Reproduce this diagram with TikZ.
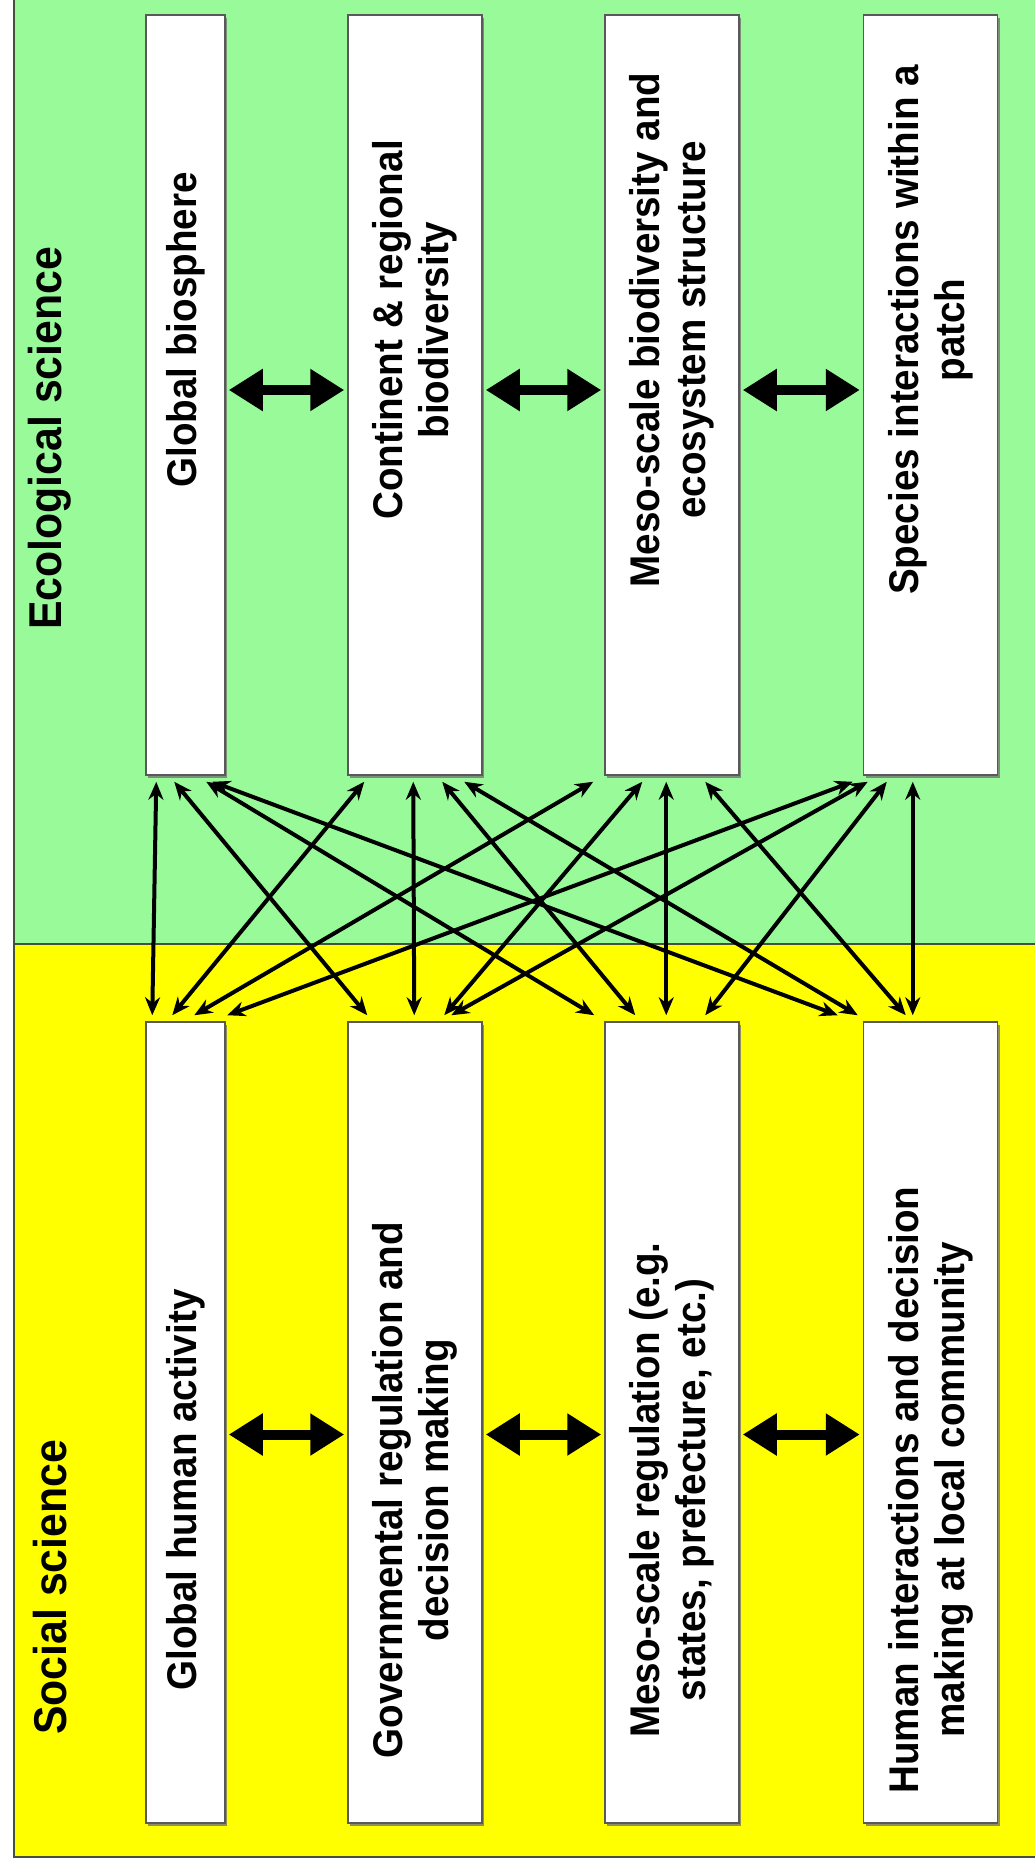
\documentclass[tikz,border=0pt]{standalone}
\usepackage{fontspec}
\setmainfont{Liberation Sans}[FakeStretch=0.93]
\usetikzlibrary{arrows.meta,shadows}
\definecolor{ecogreen}{RGB}{153,250,153}
\definecolor{socyellow}{RGB}{255,255,0}
\definecolor{frameline}{RGB}{70,80,60}
\begin{document}
\begin{tikzpicture}[x=1pt,y=-1pt,
  region/.style={draw=frameline, line width=1.5pt},
  box/.style={draw=black!65, fill=white, line width=1.5pt, inner sep=0pt,
    minimum height=#1, drop shadow={shadow xshift=2pt, shadow yshift=-3pt, fill=black!55, opacity=0.8}},
  narrowbox/.style={box=#1, minimum width=79pt},
  widebox/.style={box=#1, minimum width=134pt},
  boxtext/.style={rotate=90, align=center, inner sep=0pt,
    font=\bfseries\fontsize{41.5}{46}\selectfont},
  sidelabel/.style={rotate=90, anchor=west, inner sep=0pt,
    font=\bfseries\fontsize{46}{52}\selectfont},
  thinarrow/.style={line width=4pt, {Stealth[length=18pt,width=15pt]}-{Stealth[length=18pt,width=15pt]}},
  bigarrow/.style={line width=10pt, shorten <=3pt, shorten >=3pt,
    {Triangle[length=34pt,width=40pt]}-{Triangle[length=34pt,width=40pt]}}
]
\useasboundingbox (0,0) rectangle (1035,1868);
\begin{scope}
\clip (0,0) rectangle (1035,1868);
% regions
\fill[ecogreen] (14,-10) rectangle (1050,944);
\fill[socyellow] (14,944) rectangle (1050,1857);
\draw[region] (1050,-10) -- (14,-10) -- (14,1857) -- (1050,1857);
\draw[region] (14,944) -- (1050,944);
\end{scope}

% top boxes
\node[narrowbox=760pt] (t1) at (185.5,395) {};
\node[widebox=760pt]   (t2) at (415,395) {};
\node[widebox=760pt]   (t3) at (672,395) {};
\node[widebox=760pt]   (t4) at (930.5,395) {};
% bottom boxes
\node[narrowbox=801pt] (b1) at (185.5,1422.5) {};
\node[widebox=801pt]   (b2) at (415,1422.5) {};
\node[widebox=801pt]   (b3) at (672,1422.5) {};
\node[widebox=801pt]   (b4) at (930.5,1422.5) {};

% texts
\node[boxtext] (t1txt) at (185.5,330) {Global biosphere};
\node[boxtext] (t2txt) at (415,330) {Continent \& regional\\biodiversity};
\node[boxtext] (t3txt) at (672,330) {Meso-scale biodiversity and\\ecosystem structure};
\node[boxtext] (t4txt) at (930.5,330) {Species interactions within a\\patch};
\node[boxtext] (b1txt) at (185.5,1490) {Global human activity};
\node[boxtext] (b2txt) at (415,1490) {Governmental regulation and\\decision making};
\node[boxtext] (b3txt) at (672,1490) {Meso-scale regulation (e.g.\\states, prefecture, etc.)};
\node[boxtext] (b4txt) at (930.5,1490) {Human interactions and decision\\making at local community};

\node[sidelabel] (eco) at (50,630) {Ecological science};
\node[sidelabel] (soc) at (50,1735) {Social science};

% thick horizontal arrows
\draw[bigarrow] ([yshift=5pt]t1.east) -- ([yshift=5pt]t2.west);
\draw[bigarrow] ([yshift=5pt]t2.east) -- ([yshift=5pt]t3.west);
\draw[bigarrow] ([yshift=5pt]t3.east) -- ([yshift=5pt]t4.west);
\draw[bigarrow] ([yshift=-12pt]b1.east) -- ([yshift=-12pt]b2.west);
\draw[bigarrow] ([yshift=-12pt]b2.east) -- ([yshift=-12pt]b3.west);
\draw[bigarrow] ([yshift=-12pt]b3.east) -- ([yshift=-12pt]b4.west);

% cross links
\foreach \a/\xa/\b/\xb in {
  t1/11/b1/7, t1/29/b2/20, t1/61/b3/-10, t1/67/b4/-25,
  t2/17/b1/27, t2/66/b2/67, t2/95/b3/31, t2/117/b4/-5,
  t3/-11/b1/49, t3/38/b2/97, t3/62/b3/62, t3/101/b4/43,
  t4/-10/b1/82, t4/5/b2/104, t4/24/b3/101, t4/50/b4/50}
  \draw[thinarrow] ([xshift=\xa pt,yshift=-6pt]\a.south west) -- ([xshift=\xb pt,yshift=6pt]\b.north west);
\end{tikzpicture}
\end{document}
